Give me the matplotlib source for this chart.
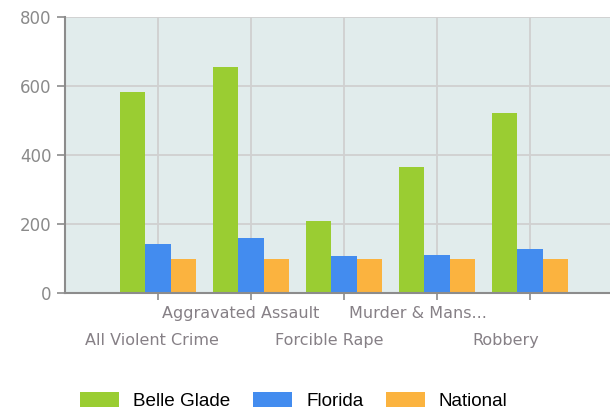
import matplotlib
matplotlib.use("Agg")
import matplotlib.pyplot as plt
import matplotlib.transforms as mtransforms
from matplotlib.patches import Patch
import numpy as np

categories = ["All Violent Crime", "Aggravated Assault", "Forcible Rape",
              "Murder & Mans...", "Robbery"]
belle_glade = [583, 654, 209, 366, 523]
florida = [143, 159, 106, 111, 127]
national = [100, 100, 100, 100, 100]
series_names = ["Belle Glade", "Florida", "National"]
y_ticks = [0, 200, 400, 600, 800]

colors = ["#9ACD32", "#438CEF", "#FBB33F"]

fig = plt.figure(figsize=(6.10, 4.11), dpi=100)
ax = fig.add_axes([65/610, 118/411, 545/610, 276/411])
ax.set_facecolor("#E1ECEC")

x = np.arange(len(categories))
w = 0.27
for k, (vals, c) in enumerate(zip([belle_glade, florida, national], colors)):
    ax.bar(x + (k - 1) * w, vals, width=w, color=c, zorder=3, linewidth=0)

ax.set_xlim(-1, 4 + 80/93)
ax.set_ylim(0, 800)
ax.set_yticks(y_ticks)
ax.set_xticks(x)

ax.grid(True, color="#D0D0D0", linewidth=1.3, zorder=0)
for s in ["top", "right"]:
    ax.spines[s].set_visible(False)
for s in ["left", "bottom"]:
    ax.spines[s].set_color("#8C8C8C")
    ax.spines[s].set_linewidth(1.5)
    ax.spines[s].set_zorder(4)

ax.tick_params(axis="y", length=6, width=1.2, color="#8C8C8C", labelsize=12,
               labelcolor="#8A8A8A", pad=3.5)
ax.tick_params(axis="x", length=5, width=1.2, color="#8C8C8C")

ax.set_xticklabels(categories, fontsize=11.5, color="#868086", family="DejaVu Sans")
for i, (tick, lbl) in enumerate(zip(ax.xaxis.get_major_ticks(), ax.get_xticklabels())):
    tick.set_pad(24 if i % 2 == 0 else 4.5)
    off = mtransforms.ScaledTranslation(-(6 + 4.5 * i) / 100, 0, fig.dpi_scale_trans)
    lbl.set_transform(lbl.get_transform() + off)

handles = [Patch(facecolor=c, edgecolor="none", label=n) for c, n in zip(colors, series_names)]
fig.legend(handles=handles, loc="center", bbox_to_anchor=(0.482, 0.025), ncol=3,
           frameon=False, prop={"family": "Liberation Sans", "size": 13.6},
           handlelength=2.05, handleheight=0.85, handletextpad=0.75, columnspacing=1.2,
           borderaxespad=0, borderpad=0)

fig.savefig("out.png", dpi=100)
